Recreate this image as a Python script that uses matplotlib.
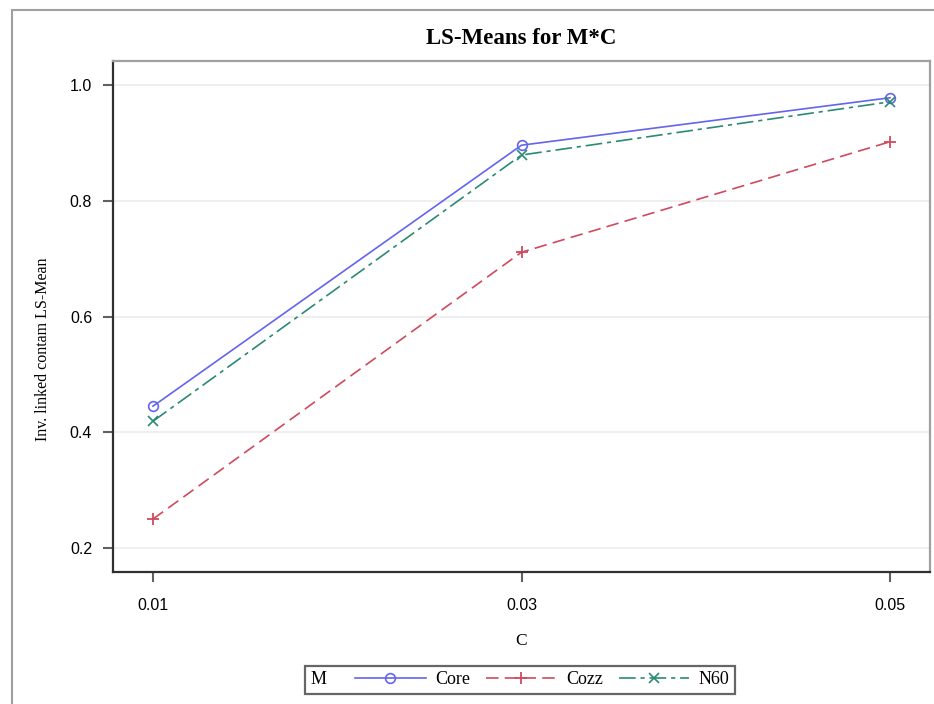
import matplotlib
matplotlib.use("Agg")
import matplotlib.pyplot as plt
from matplotlib.patches import Rectangle
from matplotlib.offsetbox import HPacker

# data
c_levels = [0.01, 0.03, 0.05]
c_labels = ["0.01", "0.03", "0.05"]
core = [0.445, 0.896, 0.978]
cozz = [0.250, 0.711, 0.902]
n60 = [0.419, 0.879, 0.971]
y_ticks = [0.2, 0.4, 0.6, 0.8, 1.0]

blue = "#6464ee"
red = "#cf4a5c"
teal = "#2b8a74"

SERIF = "Liberation Serif"
SANS = "Liberation Sans"

plt.rcParams["lines.scale_dashes"] = False

W, H = 934, 704
fig = plt.figure(figsize=(W / 100, H / 100), dpi=100)
ax = fig.add_axes([113 / W, 1 - 572 / H, (930 - 113) / W, (572 - 61) / H])

# outer frame
fig.patches.append(Rectangle((12 / W, -0.1), 1.2, 1 - 10 / H + 0.1,
                             transform=fig.transFigure, fill=False,
                             edgecolor="#a0a0a0", linewidth=1.5))

ax.plot(c_levels, core, color=blue, lw=1.2, marker="o", ms=7, mfc="none",
        mew=1.2, label="Core", zorder=3)
ax.plot(c_levels, cozz, color=red, lw=1.2, dashes=(9, 4.5), marker="+",
        ms=9, mew=1.3, label="Cozz", zorder=3)
ax.plot(c_levels, n60, color=teal, lw=1.2, dashes=(12, 3.5, 3, 3.5),
        marker="x", ms=7, mew=1.2, label="N60", zorder=3)

ax.set_xlim(0.00783, 0.05217)
ax.set_ylim(0.1585, 1.0415)
ax.set_xticks(c_levels)
ax.set_xticklabels(c_labels)
ax.set_yticks(y_ticks)
ax.set_yticklabels([f"{v:.1f}" for v in y_ticks])
ax.grid(axis="y", color="#ececec", lw=1.2, zorder=0)
ax.set_axisbelow(True)
ax.tick_params(direction="out", length=7, width=1.5, color="#606060",
               labelsize=11.5)
ax.tick_params(axis="x", pad=12)
ax.tick_params(axis="y", pad=8)
for lab in ax.get_xticklabels() + ax.get_yticklabels():
    lab.set_fontfamily(SANS)
for sp in ax.spines.values():
    sp.set_color("#303030")
    sp.set_linewidth(1.6)
ax.spines["top"].set_color("#a0a0a0")
ax.spines["right"].set_color("#a0a0a0")

ax.set_title("LS-Means for M*C", fontfamily=SERIF, fontweight="bold",
             fontsize=16.5, pad=12)
ax.set_ylabel("Inv. linked contam LS-Mean", fontfamily=SERIF, fontsize=11.5)
ax.yaxis.set_label_coords(-62 / 817, (572 - 349) / 511)
ax.set_xlabel("C", fontfamily=SERIF, fontsize=12.5, labelpad=14)

leg = ax.legend(loc="center", bbox_to_anchor=(520 / W, 1 - 680 / H),
                bbox_transform=fig.transFigure, ncol=3, title="M",
                frameon=True, fancybox=False, handlelength=3.9,
                handletextpad=0.55, columnspacing=0.85, borderpad=0.3,
                prop={"family": SERIF, "size": 13},
                title_fontproperties={"family": SERIF, "size": 13})
leg.get_frame().set_edgecolor("#404040")
leg.get_frame().set_linewidth(1.6)
# put the title "M" to the left of the entries, as in SAS
fs = leg._fontsize
leg._legend_box = HPacker(pad=leg.borderpad * fs, sep=1.6 * fs, align="center",
                          children=[leg._legend_title_box,
                                    leg._legend_handle_box])
leg._legend_box.set_figure(fig)
leg._legend_box.axes = ax
leg._legend_box.set_offset(leg._findoffset)

fig.savefig("out.png", dpi=100)
